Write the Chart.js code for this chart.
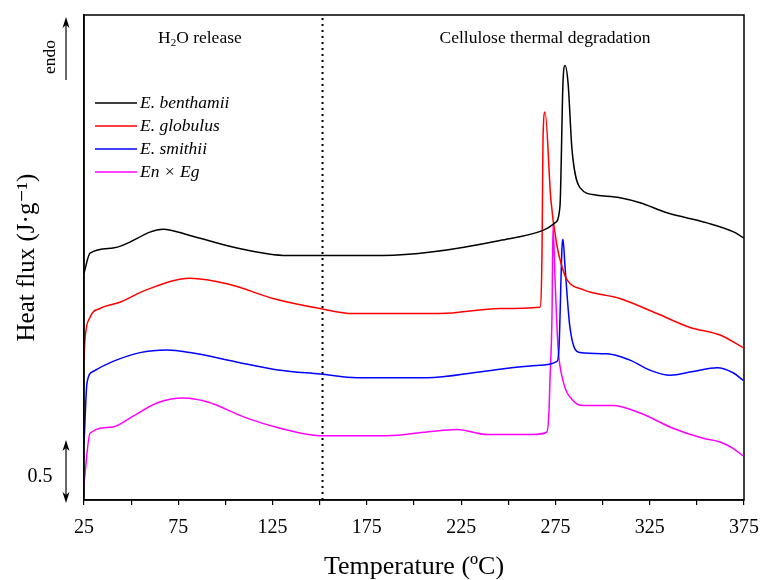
<!DOCTYPE html>
<html>
<head>
<meta charset="utf-8">
<script src="https://cdn.jsdelivr.net/npm/chart.js@4/dist/chart.umd.min.js"></script>
<style>
  html, body { margin: 0; padding: 0; background: #fff; }
  canvas { display: block; }
</style>
</head>
<body>
<canvas id="dsc" width="761" height="580"></canvas>
<script>
// temperatura (ºC) y flujo de calor (J/g, escala relativa con desplazamiento)
const tBenthamii = [25, 28.2, 40.4, 66.9, 81.2, 106.1, 132.7, 183.6, 210.1, 245.6, 268.4, 274.8, 277.4, 279.0, 280.1, 281.7, 283.8, 288.0, 297.0, 309.2, 319.9, 334.2, 355.4, 369.2, 375];
const hfBenthamii = [1.80, 1.96, 2.00, 2.15, 2.10, 2.00, 1.94, 1.94, 1.97, 2.06, 2.14, 2.20, 2.33, 3.31, 3.45, 3.31, 2.78, 2.48, 2.42, 2.40, 2.36, 2.28, 2.20, 2.13, 2.08];

const tGlobulus = [25, 25.5, 28.2, 33.5, 44.1, 58.4, 81.2, 102.4, 125.2, 150.2, 167.7, 213.8, 245.6, 266.8, 267.9, 268.4, 269.5, 272.6, 275.8, 278.5, 281.1, 289.6, 309.2, 328.9, 346.4, 362.3, 374.5];
const hfGlobulus = [1.11, 1.27, 1.45, 1.52, 1.57, 1.67, 1.76, 1.71, 1.60, 1.52, 1.48, 1.48, 1.52, 1.53, 1.98, 2.86, 3.08, 2.38, 2.02, 1.85, 1.75, 1.67, 1.60, 1.48, 1.37, 1.31, 1.21];

const tSmithii = [25, 26.6, 29.8, 40.4, 54.7, 69.0, 81.2, 107.7, 128.9, 150.2, 169.8, 206.9, 236.6, 266.8, 275.8, 276.9, 278.5, 279.0, 280.1, 282.7, 288.0, 302.3, 314.5, 325.2, 335.8, 348.0, 360.7, 369.2, 374.5];
const hfSmithii = [0.44, 0.93, 1.02, 1.10, 1.17, 1.19, 1.17, 1.09, 1.03, 1.00, 0.97, 0.97, 1.02, 1.07, 1.10, 1.21, 2.01, 2.07, 1.85, 1.37, 1.17, 1.16, 1.11, 1.03, 0.99, 1.02, 1.05, 1.01, 0.95];

const tHibrido = [25, 28.2, 40.4, 49.4, 63.7, 77.5, 90.2, 111.4, 128.9, 150.2, 185.7, 206.9, 222.8, 238.7, 263.1, 270.5, 271.6, 272.1, 273.2, 273.7, 274.8, 276.4, 279.0, 284.3, 289.6, 305.5, 319.9, 337.3, 353.3, 362.3, 369.2, 374.5];
const hfHibrido = [0.13, 0.53, 0.58, 0.65, 0.77, 0.81, 0.78, 0.65, 0.57, 0.51, 0.51, 0.54, 0.56, 0.52, 0.52, 0.54, 0.71, 0.95, 1.48, 2.18, 1.75, 1.21, 0.95, 0.79, 0.75, 0.75, 0.69, 0.57, 0.49, 0.46, 0.41, 0.35];

const nombres = ['E. benthamii', 'E. globulus', 'E. smithii', 'En × Eg'];
const colores = ['#000000', '#ff0000', '#0000ff', '#ff00ff'];
const tLimite = 151.5;   // separación entre regiones
const xTicks = [25, 75, 125, 175, 225, 275, 325, 375];

const SERIF = '"Liberation Serif", "DejaVu Serif", serif';

function puntos(xs, ys) {
  return xs.map(function (x, i) { return { x: x, y: ys[i] }; });
}

function serie(i, xs, ys) {
  return {
    label: nombres[i],
    data: puntos(xs, ys),
    borderColor: colores[i],
    backgroundColor: colores[i],
    borderWidth: 1.5,
    pointRadius: 0,
    cubicInterpolationMode: 'monotone'
  };
}

function flecha(ctx, x, y, dir) {
  ctx.beginPath();
  ctx.moveTo(x, y);
  ctx.lineTo(x - 3.5, y - dir * 11);
  ctx.lineTo(x, y - dir * 8);
  ctx.lineTo(x + 3.5, y - dir * 11);
  ctx.closePath();
  ctx.fill();
}

// marco, leyenda y anotaciones
const extras = {
  id: 'extras',
  afterDraw: function (chart) {
    const ctx = chart.ctx;
    const a = chart.chartArea;
    ctx.save();
    ctx.strokeStyle = '#000';
    ctx.lineWidth = 1.5;
    ctx.strokeRect(a.left, a.top, a.right - a.left, a.bottom - a.top);

    // leyenda
    ctx.font = 'italic 17.5px ' + SERIF;
    ctx.textBaseline = 'middle';
    chart.data.datasets.slice(0, 4).forEach(function (ds, i) {
      const y = 103 + i * 23;
      ctx.strokeStyle = ds.borderColor;
      ctx.lineWidth = 1.5;
      ctx.beginPath();
      ctx.moveTo(95, y);
      ctx.lineTo(137, y);
      ctx.stroke();
      ctx.fillStyle = '#000';
      ctx.fillText(ds.label, 140, y);
    });

    // rótulos de regiones
    ctx.strokeStyle = '#000';
    ctx.fillStyle = '#000';
    ctx.font = '17.5px ' + SERIF;
    ctx.textAlign = 'left';
    let x = 158;
    ctx.fillText('H', x, 38);
    x += ctx.measureText('H').width;
    ctx.font = '11px ' + SERIF;
    ctx.fillText('2', x, 43);
    x += ctx.measureText('2').width;
    ctx.font = '17.5px ' + SERIF;
    ctx.fillText('O release', x, 38);
    ctx.textAlign = 'center';
    ctx.fillText('Cellulose thermal degradation', 545, 38);

    // endo
    ctx.save();
    ctx.translate(50, 57);
    ctx.rotate(-Math.PI / 2);
    ctx.fillText('endo', 0, 0);
    ctx.restore();
    ctx.lineWidth = 1.2;
    ctx.beginPath();
    ctx.moveTo(66, 80);
    ctx.lineTo(66, 20);
    ctx.stroke();
    flecha(ctx, 66, 17, -1);

    // barra de escala 0.5
    ctx.beginPath();
    ctx.moveTo(66, 444);
    ctx.lineTo(66, 499);
    ctx.stroke();
    flecha(ctx, 66, 440, -1);
    flecha(ctx, 66, 503, 1);
    ctx.font = '20px ' + SERIF;
    ctx.fillText('0.5', 40, 477);
    ctx.restore();
  }
};

new Chart(document.getElementById('dsc'), {
  type: 'line',
  data: {
    datasets: [
      serie(0, tBenthamii, hfBenthamii),
      serie(1, tGlobulus, hfGlobulus),
      serie(2, tSmithii, hfSmithii),
      serie(3, tHibrido, hfHibrido),
      {
        label: 'limite',
        data: [{ x: tLimite, y: 0 }, { x: tLimite, y: 3.85 }],
        borderColor: '#000',
        borderWidth: 2,
        borderDash: [2, 4],
        pointRadius: 0
      }
    ]
  },
  options: {
    responsive: false,
    animation: false,
    devicePixelRatio: 1,
    layout: { padding: { left: 0, right: 17, top: 15, bottom: 0 } },
    plugins: {
      legend: { display: false },
      tooltip: { enabled: false }
    },
    scales: {
      x: {
        type: 'linear',
        min: 25,
        max: 375,
        afterFit: function (s) {
          s.height = 80;
          s.paddingLeft = 0;
          s.paddingRight = 0;
        },
        afterBuildTicks: function (s) {
          s.ticks = [];
          for (let v = 25; v <= 375; v += 25) s.ticks.push({ value: v });
        },
        ticks: {
          autoSkip: false,
          maxRotation: 0,
          padding: 11,
          color: '#000',
          font: { family: SERIF, size: 20 },
          callback: function (v) { return xTicks.indexOf(v) >= 0 ? String(v) : ''; }
        },
        grid: {
          drawOnChartArea: false,
          drawTicks: true,
          tickLength: 5,
          color: '#000',
          lineWidth: 1.2
        },
        border: { display: true, color: '#000', width: 1.5 },
        title: {
          display: true,
          text: 'Temperature (ºC)',
          color: '#000',
          font: { family: SERIF, size: 26, lineHeight: 1 },
          padding: { top: 0, bottom: 0 }
        }
      },
      y: {
        min: 0,
        max: 3.85,
        afterFit: function (s) { s.width = 84; },
        ticks: { display: false },
        grid: { drawOnChartArea: false, drawTicks: false },
        border: { display: true, color: '#000', width: 1.5 },
        title: {
          display: true,
          text: 'Heat flux (J·g⁻¹)',
          color: '#000',
          font: { family: SERIF, size: 25, lineHeight: 1 },
          padding: { top: 15, bottom: 0 }
        }
      }
    }
  },
  plugins: [extras]
});
</script>
</body>
</html>
